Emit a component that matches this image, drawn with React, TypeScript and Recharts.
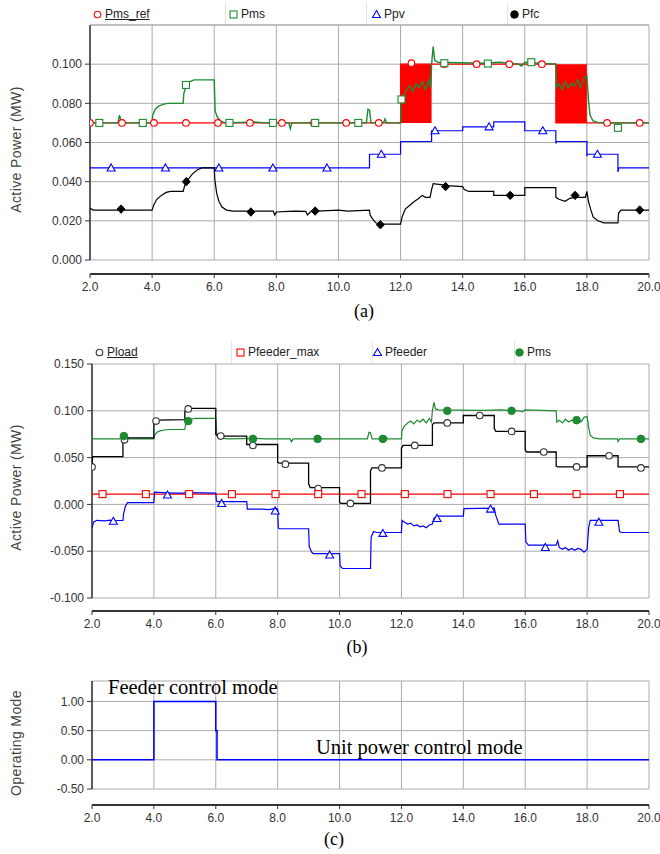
import React from "react"
import { ComposedChart, Line, Scatter, XAxis, YAxis, CartesianGrid, ReferenceLine, ReferenceArea } from "recharts"

// time axis (s)
const xTicks = [2, 4, 6, 8, 10, 12, 14, 16, 18, 20]

// ---------- panel (a) ----------
const ticksA = [0, 0.02, 0.04, 0.06, 0.08, 0.1]
const pmsRefLine = [[2, 0.07], [12, 0.07], [12, 0.1], [13, 0.1], [17, 0.1], [17, 0.07], [18, 0.07], [20, 0.07]]
const pmsRefBands = [[12, 13, 0.07, 0.1], [17, 18, 0.07, 0.1]]
const pmsRefMarks = [[2.0, 0.07], [3.03, 0.07], [4.06, 0.07], [5.09, 0.07], [6.12, 0.07], [7.15, 0.07], [8.18, 0.07], [9.21, 0.07], [10.25, 0.07], [11.3, 0.07], [12.35, 0.1005], [13.4, 0.1], [14.45, 0.1], [15.5, 0.1], [16.55, 0.1], [18.65, 0.07], [19.7, 0.07]]

const pms = [
  [2.0, 0.071], [2.05, 0.07], [2.9, 0.07], [2.95, 0.074], [3.0, 0.071], [3.05, 0.07], [4.0, 0.07], [4.02, 0.074], [4.1, 0.077],
  [4.2, 0.0785], [4.35, 0.0795], [4.5, 0.08], [5.0, 0.08], [5.02, 0.085], [5.1, 0.089], [5.2, 0.091], [5.35, 0.092], [6.0, 0.092],
  [6.03, 0.076], [6.1, 0.073], [6.2, 0.071], [6.35, 0.07], [7.3, 0.0705], [7.6, 0.07], [8.4, 0.07], [8.45, 0.067], [8.5, 0.07],
  [10.9, 0.07], [10.95, 0.077], [11.0, 0.0765], [11.05, 0.07], [11.45, 0.07], [11.5, 0.072], [11.55, 0.07], [12.0, 0.07],
  [12.02, 0.079], [12.1, 0.084], [12.2, 0.087], [12.3, 0.089], [12.4, 0.086], [12.5, 0.09], [12.6, 0.088], [12.7, 0.091],
  [12.8, 0.087], [12.9, 0.092], [12.97, 0.088], [13.0, 0.1], [13.05, 0.109], [13.1, 0.102], [13.2, 0.101], [14.6, 0.1005],
  [15.2, 0.101], [15.5, 0.1005], [15.8, 0.1], [15.9, 0.099], [16.0, 0.101], [17.0, 0.1], [17.02, 0.088], [17.1, 0.09],
  [17.2, 0.087], [17.3, 0.091], [17.4, 0.088], [17.5, 0.09], [17.6, 0.089], [17.7, 0.092], [17.8, 0.088], [17.9, 0.093],
  [18.0, 0.094], [18.05, 0.082], [18.1, 0.074], [18.2, 0.071], [18.4, 0.07], [18.98, 0.07], [19.0, 0.067], [19.05, 0.07], [20.0, 0.07],
]
const pmsMarksA = [[2.3, 0.07], [3.7, 0.07], [5.09, 0.0894], [6.49, 0.07], [7.89, 0.07], [9.25, 0.07], [10.64, 0.07], [12.03, 0.082], [13.41, 0.1005], [14.81, 0.1003], [16.21, 0.101], [19.0, 0.0675]]

const ppv = [
  [2, 0.047], [11, 0.047], [11, 0.054], [12, 0.054], [12, 0.0605], [13, 0.0605], [13, 0.066], [14, 0.066], [14, 0.068],
  [15, 0.068], [15, 0.0705], [16, 0.0705], [16, 0.066], [17, 0.066], [17, 0.0595], [17.02, 0.0605], [18, 0.0605],
  [18, 0.0535], [18.03, 0.054], [19, 0.054], [19, 0.045], [19.03, 0.047], [20, 0.047],
]
const ppvMarks = [[2.68, 0.047], [4.43, 0.047], [6.15, 0.047], [7.89, 0.047], [9.63, 0.047], [11.38, 0.054], [13.11, 0.066], [14.85, 0.068], [16.58, 0.066], [18.34, 0.054]]

const pfc = [
  [2, 0.0265], [2.1, 0.0255], [2.9, 0.0255], [3.0, 0.026], [3.1, 0.0255], [4.0, 0.0255], [4.05, 0.028], [4.15, 0.031],
  [4.3, 0.033], [4.45, 0.0345], [4.6, 0.035], [5.0, 0.035], [5.05, 0.038], [5.15, 0.041], [5.3, 0.044], [5.45, 0.046],
  [5.6, 0.047], [6.0, 0.047], [6.02, 0.041], [6.08, 0.034], [6.15, 0.03], [6.25, 0.027], [6.4, 0.0255], [6.6, 0.025],
  [7.9, 0.025], [7.95, 0.023], [8.0, 0.0245], [8.4, 0.0248], [8.6, 0.025], [8.95, 0.0248], [9.0, 0.023], [9.1, 0.0245],
  [9.2, 0.026], [9.3, 0.025], [10.0, 0.0255], [10.3, 0.025], [11.0, 0.0255], [11.02, 0.023], [11.1, 0.021], [11.2, 0.019],
  [11.35, 0.0183], [12.0, 0.0183], [12.05, 0.022], [12.15, 0.026], [12.3, 0.028], [12.45, 0.03], [12.55, 0.031], [12.7, 0.033],
  [12.8, 0.032], [12.95, 0.032], [13.0, 0.036], [13.05, 0.039], [13.3, 0.0385], [13.5, 0.038], [14.0, 0.0375], [14.05, 0.036],
  [14.2, 0.035], [15.0, 0.035], [15.0, 0.033], [16.0, 0.033], [16.0, 0.037], [17.0, 0.037], [17.0, 0.032], [17.1, 0.031],
  [17.3, 0.03], [17.45, 0.0315], [17.6, 0.032], [17.95, 0.032], [18.0, 0.035], [18.05, 0.03], [18.12, 0.026], [18.2, 0.022],
  [18.35, 0.02], [18.55, 0.019], [19.0, 0.019], [19.02, 0.024], [19.1, 0.0255], [20.0, 0.0255],
]
const pfcMarks = [[3.0, 0.026], [5.1, 0.04], [7.18, 0.0245], [9.25, 0.025], [11.35, 0.018], [13.45, 0.0375], [15.53, 0.033], [17.62, 0.033], [19.7, 0.0255]]

// ---------- panel (b) ----------
const ticksB = [-0.1, -0.05, 0, 0.05, 0.1, 0.15]
const pload = [
  [2.0, 0.04], [2.02, 0.051], [3.0, 0.051], [3.0, 0.066], [3.05, 0.07], [3.1, 0.071], [4.0, 0.071], [4.0, 0.086], [4.05, 0.089],
  [4.1, 0.09], [5.0, 0.0905], [5.0, 0.099], [5.05, 0.102], [5.1, 0.1025], [6.0, 0.1025], [6.0, 0.075], [6.05, 0.073], [7.0, 0.073],
  [7.0, 0.064], [8.0, 0.064], [8.0, 0.045], [8.05, 0.044], [9.0, 0.044], [9.0, 0.022], [9.05, 0.018], [10.0, 0.018], [10.0, 0.002],
  [10.05, 0.001], [11.0, 0.001], [11.0, 0.036], [11.05, 0.039], [12.0, 0.039], [12.0, 0.06], [12.05, 0.063], [13.0, 0.063],
  [13.0, 0.085], [13.05, 0.087], [14.0, 0.087], [14.0, 0.095], [15.0, 0.095], [15.0, 0.081], [15.05, 0.078], [16.0, 0.078],
  [16.0, 0.058], [16.05, 0.056], [17.0, 0.056], [17.0, 0.041], [17.05, 0.04], [18.0, 0.04], [18.0, 0.052], [19.0, 0.052],
  [19.0, 0.04], [20.0, 0.04],
]
const ploadMarks = [[2.0, 0.04], [3.05, 0.069], [4.07, 0.089], [5.11, 0.102], [6.16, 0.073], [7.2, 0.063], [8.25, 0.043], [9.31, 0.017], [10.35, 0.001], [11.37, 0.039], [12.43, 0.063], [13.48, 0.087], [14.53, 0.095], [15.56, 0.078], [16.6, 0.056], [17.66, 0.04], [18.71, 0.052], [19.74, 0.039]]

const pfeederMax = [[2, 0.011], [20, 0.011]]
const pfeederMaxMarks = [[2.34, 0.011], [3.74, 0.011], [5.14, 0.011], [6.52, 0.011], [7.93, 0.011], [9.31, 0.011], [10.71, 0.011], [12.11, 0.011], [13.49, 0.011], [14.88, 0.011], [16.28, 0.011], [17.66, 0.011], [19.06, 0.011]]

const pfeeder = [
  [2.0, -0.025], [2.05, -0.019], [2.15, -0.017], [2.4, -0.0175], [2.6, -0.0168], [2.7, -0.018], [2.8, -0.0172], [3.0, -0.017],
  [3.02, -0.01], [3.08, -0.002], [3.15, 0.002], [4.0, 0.002], [4.02, 0.013], [4.3, 0.0125], [4.6, 0.012], [5.0, 0.012],
  [5.02, 0.014], [5.1, 0.0125], [6.0, 0.012], [6.02, 0.004], [6.05, 0.003], [7.0, 0.003], [7.02, -0.005], [7.5, -0.005],
  [7.7, -0.0055], [7.9, -0.0045], [8.0, -0.005], [8.02, -0.025], [8.05, -0.026], [9.0, -0.026], [9.02, -0.045], [9.1, -0.051],
  [9.15, -0.0525], [10.0, -0.0525], [10.02, -0.066], [10.1, -0.0685], [11.0, -0.0685], [11.02, -0.035], [11.1, -0.029],
  [11.2, -0.03], [12.0, -0.03], [12.02, -0.017], [12.1, -0.019], [12.2, -0.021], [12.3, -0.02], [12.4, -0.023], [12.5, -0.022],
  [12.6, -0.024], [12.7, -0.023], [12.8, -0.025], [12.9, -0.022], [13.0, -0.021], [13.05, -0.015], [13.15, -0.0125],
  [14.0, -0.0125], [14.02, -0.0045], [15.0, -0.004], [15.05, -0.012], [15.15, -0.021], [16.0, -0.021], [16.02, -0.04],
  [16.1, -0.0435], [17.0, -0.0435], [17.05, -0.039], [17.1, -0.046], [17.2, -0.048], [17.3, -0.046], [17.4, -0.049],
  [17.5, -0.047], [17.6, -0.049], [17.7, -0.047], [17.8, -0.048], [17.9, -0.051], [18.0, -0.048], [18.05, -0.025],
  [18.1, -0.017], [19.0, -0.017], [19.05, -0.029], [19.1, -0.03], [20.0, -0.03],
]
const pfeederMarks = [[2.69, -0.018], [4.44, 0.01], [6.19, 0.001], [7.92, -0.007], [9.68, -0.054], [11.4, -0.031], [13.15, -0.015], [14.88, -0.005], [16.65, -0.046], [18.38, -0.019]]
const pmsMarksB = [[3.03, 0.073], [5.11, 0.089], [7.2, 0.07], [9.29, 0.07], [11.4, 0.07], [13.48, 0.1], [15.56, 0.1], [17.66, 0.09], [19.74, 0.07]]

// ---------- panel (c) ----------
const ticksC = [-0.5, 0, 0.5, 1]
const mode = [[2, 0], [4, 0], [4, 1], [6, 1], [6, 0.5], [6.04, 0.5], [6.04, 0], [20, 0]]

const legendA = ["Pms_ref", "Pms", "Ppv", "Pfc"]
const legendB = ["Pload", "Pfeeder_max", "Pfeeder", "Pms"]

const RED = "#ff0000"
const GREEN = "#1e8a32"
const BLUE = "#0000ff"
const BLACK = "#000000"
const GRID = "#ababab"
const AXIS = "#333333"
const SANS = "'Liberation Sans', Arial, sans-serif"
const SERIF = "'Liberation Serif', 'Times New Roman', serif"

const pts = (arr: number[][]) => arr.map(([x, y]) => ({ x, y }))

type Kind = "circle" | "square" | "triangle" | "diamond" | "dot"

function Marker({ kind, color, cx, cy }: { kind: Kind; color: string; cx: number; cy: number }) {
  if (kind === "circle") return <circle cx={cx} cy={cy} r={3.3} fill="#fff" stroke={color} strokeWidth={1.1} />
  if (kind === "square") return <rect x={cx - 3.5} y={cy - 3.5} width={7} height={7} fill="#fff" stroke={color} strokeWidth={1.1} />
  if (kind === "triangle") return <path d={`M${cx},${cy - 4} L${cx + 4},${cy + 3} L${cx - 4},${cy + 3} Z`} fill="#fff" stroke={color} strokeWidth={1.1} />
  if (kind === "diamond") return <path d={`M${cx},${cy - 4.2} L${cx + 4},${cy} L${cx},${cy + 4.2} L${cx - 4},${cy} Z`} fill={color} stroke={color} />
  return <circle cx={cx} cy={cy} r={3.8} fill={color} stroke={color} />
}

const shape = (kind: Kind, color: string) => (p: any) => <Marker kind={kind} color={color} cx={p.cx} cy={p.cy} />

function LegendRow({ names, xs, seps, kinds, colors, top }: any) {
  return (
    <div style={{ position: "absolute", left: 0, top, width: 660, height: 22, fontFamily: SANS, fontSize: 12, color: "#222" }}>
      {seps.map((s: number) => (
        <div key={s} style={{ position: "absolute", left: s, top: 0, width: 1, height: 22, background: "#e4e4e4" }} />
      ))}
      {names.map((n: string, i: number) => (
        <div key={n + i} style={{ position: "absolute", left: xs[i] - 5, top: 4, display: "flex", alignItems: "center", whiteSpace: "nowrap" }}>
          <svg width={11} height={11} style={{ marginRight: 2 }}>
            <Marker kind={kinds[i]} color={colors[i]} cx={5.5} cy={5.5} />
          </svg>
          <span style={{ textDecoration: i === 0 ? "underline" : "none" }}>{n}</span>
        </div>
      ))}
    </div>
  )
}

const tickStyle = { fontSize: 12, fill: "#333", fontFamily: SANS }

function Panel({ top, height, marginTop, gridH, left, domain, ticks, digits, pad, label, children }: any) {
  return (
    <div style={{ position: "absolute", left: 0, top }}>
      <ComposedChart width={660} height={height} margin={{ top: marginTop, right: 11, bottom: 0, left: 0 }}>
        <CartesianGrid stroke={GRID} y={marginTop} height={gridH} />
        <XAxis
          type="number"
          dataKey="x"
          domain={[2, 20]}
          ticks={xTicks}
          tickFormatter={(v: number) => v.toFixed(1)}
          height={26}
          tick={tickStyle}
          axisLine={{ stroke: AXIS, strokeWidth: 2 }}
          tickLine={{ stroke: AXIS }}
          tickSize={4}
          tickMargin={4}
          allowDataOverflow
          interval={0}
        />
        <YAxis
          type="number"
          dataKey="y"
          width={left}
          domain={domain}
          ticks={ticks}
          tickFormatter={(v: number) => v.toFixed(digits)}
          padding={{ top: 0, bottom: pad }}
          tick={tickStyle}
          axisLine={false}
          tickLine={{ stroke: AXIS }}
          tickSize={5}
          tickMargin={3}
          allowDataOverflow
          interval={0}
          label={{ value: label, angle: -90, position: "insideLeft", offset: 16, style: { textAnchor: "middle", fontSize: 14, fill: "#444", fontFamily: SANS, letterSpacing: 0.4 } }}
        />
        <ReferenceLine segment={[{ x: 2, y: domain[0] }, { x: 2, y: domain[1] }]} stroke={AXIS} strokeWidth={1.5} />
        {children}
      </ComposedChart>
    </div>
  )
}

const caption = (text: string, cx: number, top: number) => (
  <div style={{ position: "absolute", left: cx - 60, width: 120, top, textAlign: "center", fontFamily: SERIF, fontSize: 18 }}>{text}</div>
)

export default function App() {
  return (
    <div style={{ position: "relative", width: 660, height: 854, background: "#fff", overflow: "hidden" }}>
      <style>{"body{margin:0}"}</style>

      {/* (a) */}
      <LegendRow names={legendA} xs={[97, 233, 376, 514]} seps={[225, 366, 507]} kinds={["circle", "square", "triangle", "dot"]} colors={[RED, GREEN, BLUE, BLACK]} top={3} />
      <Panel top={0} height={300} marginTop={25} gridH={235} left={90} domain={[0, 0.12]} ticks={ticksA} digits={3} pad={14} label="Active Power (MW)">
        <ReferenceLine y={0.12} stroke={GRID} />
        {pmsRefBands.map(([x1, x2, y1, y2]) => (
          <ReferenceArea key={x1} x1={x1} x2={x2} y1={y1} y2={y2} fill={RED} fillOpacity={1} stroke="none" />
        ))}
        <Line data={pts(pmsRefLine)} dataKey="y" stroke={RED} strokeWidth={1.2} dot={false} isAnimationActive={false} />
        <Line data={pts(ppv)} dataKey="y" stroke={BLUE} strokeWidth={1.2} dot={false} isAnimationActive={false} />
        <Line data={pts(pfc)} dataKey="y" stroke={BLACK} strokeWidth={1.2} dot={false} isAnimationActive={false} />
        <Line data={pts(pms)} dataKey="y" stroke={GREEN} strokeWidth={1.4} dot={false} isAnimationActive={false} />
        <Scatter data={pts(pmsRefMarks)} dataKey="y" shape={shape("circle", RED)} isAnimationActive={false} />
        <Scatter data={pts(pmsMarksA)} dataKey="y" shape={shape("square", GREEN)} isAnimationActive={false} />
        <Scatter data={pts(ppvMarks)} dataKey="y" shape={shape("triangle", BLUE)} isAnimationActive={false} />
        <Scatter data={pts(pfcMarks)} dataKey="y" shape={shape("diamond", BLACK)} isAnimationActive={false} />
      </Panel>
      {caption("(a)", 364, 301)}

      {/* (b) */}
      <LegendRow names={legendB} xs={[99, 240, 377, 519]} seps={[231, 372, 514]} kinds={["circle", "square", "triangle", "dot"]} colors={["#333", RED, BLUE, GREEN]} top={341} />
      <Panel top={340} height={297} marginTop={24} gridH={234} left={92} domain={[-0.1, 0.15]} ticks={ticksB} digits={3} pad={13} label="Active Power (MW)">
        <Line data={pts(pfeederMax)} dataKey="y" stroke={RED} strokeWidth={1.2} dot={false} isAnimationActive={false} />
        <Line data={pts(pfeeder)} dataKey="y" stroke={BLUE} strokeWidth={1.2} dot={false} isAnimationActive={false} />
        <Line data={pts(pms)} dataKey="y" stroke={GREEN} strokeWidth={1.2} dot={false} isAnimationActive={false} />
        <Line data={pts(pload)} dataKey="y" stroke={BLACK} strokeWidth={1.3} dot={false} isAnimationActive={false} />
        <Scatter data={pts(ploadMarks)} dataKey="y" shape={shape("circle", "#333")} isAnimationActive={false} />
        <Scatter data={pts(pfeederMaxMarks)} dataKey="y" shape={shape("square", RED)} isAnimationActive={false} />
        <Scatter data={pts(pfeederMarks)} dataKey="y" shape={shape("triangle", BLUE)} isAnimationActive={false} />
        <Scatter data={pts(pmsMarksB)} dataKey="y" shape={shape("dot", GREEN)} isAnimationActive={false} />
      </Panel>
      {caption("(b)", 357, 637)}

      {/* (c) */}
      <Panel top={670} height={161} marginTop={11} gridH={108} left={92} domain={[-0.5, 1.35]} ticks={ticksC} digits={2} pad={16} label="Operating Mode">
        <Line data={pts(mode)} dataKey="y" stroke={BLUE} strokeWidth={1.6} dot={false} isAnimationActive={false} />
      </Panel>
      <div style={{ position: "absolute", left: 108, top: 676, fontFamily: SERIF, fontSize: 20.5, whiteSpace: "nowrap" }}>Feeder control mode</div>
      <div style={{ position: "absolute", left: 316, top: 736, fontFamily: SERIF, fontSize: 20.5, whiteSpace: "nowrap" }}>Unit power control mode</div>
      {caption("(c)", 334, 829)}
    </div>
  )
}
